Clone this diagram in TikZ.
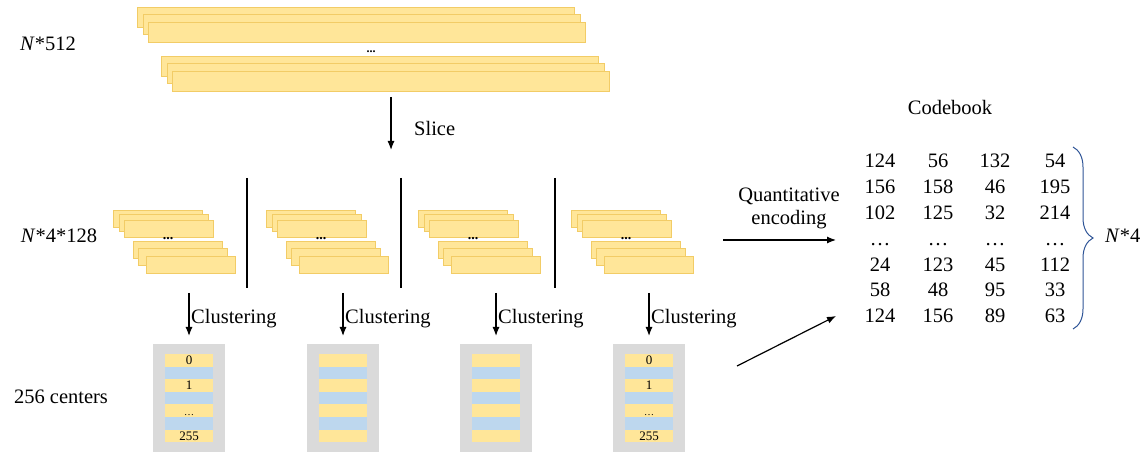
\documentclass[tikz,border=0pt]{standalone}
\usepackage{fontspec}
\setmainfont{Liberation Serif}
\usetikzlibrary{arrows.meta,decorations.pathreplacing}
\definecolor{stripY}{HTML}{FFE699}
\definecolor{stripE}{HTML}{F2CC66}
\definecolor{stripBl}{HTML}{BDD7EE}
\definecolor{boxG}{HTML}{DADADA}
\definecolor{braceB}{HTML}{2F5597}
\begin{document}
\begin{tikzpicture}[x=1pt,y=-1pt,
  bigstrip/.style={draw=stripE,fill=stripY,line width=0.8pt,inner sep=0pt,outer sep=0pt,minimum width=437pt,minimum height=20pt,anchor=north west},
  smallstrip/.style={draw=stripE,fill=stripY,line width=0.8pt,inner sep=0pt,outer sep=0pt,minimum width=89pt,minimum height=17pt,anchor=north west},
  graybox/.style={fill=boxG,inner sep=0pt,outer sep=0pt,minimum width=72pt,minimum height=108pt,anchor=north west},
  ystripe/.style={fill=stripY,inner sep=0pt,outer sep=0pt,minimum width=48pt,minimum height=12.6pt,anchor=north west},
  bstripe/.style={fill=stripBl,inner sep=0pt,outer sep=0pt,minimum width=48pt,minimum height=12.6pt,anchor=north west},
  lab/.style={font=\fontsize{20.5}{23}\selectfont,inner sep=0pt},
  small/.style={font=\fontsize{13}{15}\selectfont,inner sep=0pt,anchor=base},
  arr/.style={-{Latex[length=9pt,width=7pt]},line width=1.2pt},
  sep/.style={line width=1.6pt}]
\useasboundingbox (0,0) rectangle (1144,454);

% top strips N*512
\node[bigstrip] (t1) at (137,7) {};
\node[bigstrip] (t2) at (143,14) {};
\node[bigstrip] (t3) at (148,22) {};
\node[small,font=\fontsize{12}{14}\selectfont] (tdots) at (371,53) {\textbf{...}};
\node[bigstrip] (t4) at (161,56) {};
\node[bigstrip] (t5) at (167,63) {};
\node[bigstrip] (t6) at (172,71) {};
\node[lab] (l512) at (48,44) {\textit{N}*512};

% slice arrow
\coordinate (sA) at (391,97);
\coordinate (sB) at (391,150);
\draw[arr] (sA) -- (sB);
\node[lab,anchor=west] (slice) at (414,128) {Slice};

% separators
\foreach \x [count=\i] in {247,401,555} {
  \coordinate (sepT\i) at (\x,178);
  \coordinate (sepB\i) at (\x,288);
  \draw[sep] (sepT\i) -- (sepB\i);
}

% small groups
\foreach \g [count=\i] in {113,266,418,571} {
  \node[smallstrip] (g\i a) at (\g,210) {};
  \node[smallstrip] (g\i b) at (\g+6,214) {};
  \node[smallstrip] (g\i c) at (\g+11,220) {};
  \node[smallstrip] (g\i d) at (\g+20,241) {};
  \node[smallstrip] (g\i e) at (\g+25.5,248) {};
  \node[smallstrip] (g\i f) at (\g+33,256) {};
  \node[small,font=\fontsize{14}{15}\selectfont] (g\i dots) at (\g+55,240) {\textbf{...}};
}
\node[lab] (l128) at (59,236) {\textit{N}*4*128};

% clustering arrows and center boxes
\foreach \gx [count=\i] in {153,307,460,613} {
  \coordinate (cA\i) at (\gx+36,293);
  \coordinate (cB\i) at (\gx+36,336);
  \draw[arr] (cA\i) -- (cB\i);
  \node[lab,anchor=west] (cl\i) at (\gx+38,319) {Clustering};
  \node[graybox] (box\i) at (\gx,344) {};
  \foreach \k in {0,2,4,6} {
    \node[ystripe] (st\i-\k) at (\gx+12,354+12.6*\k) {};
  }
  \foreach \k in {1,3,5} {
    \node[bstripe] (st\i-\k) at (\gx+12,354+12.6*\k) {};
  }
}
\foreach \i in {1,4} {
  \node[small] (n0-\i) at ([yshift=-4.4pt]st\i-0.center) {0};
  \node[small] (n1-\i) at ([yshift=-4.4pt]st\i-2.center) {1};
  \node[small,font=\fontsize{10}{12}\selectfont] (n2-\i) at ([yshift=-4.4pt]st\i-4.center) {…};
  \node[small] (n3-\i) at ([yshift=-4.4pt]st\i-6.center) {255};
}
\node[lab] (l256) at (61,397) {256 centers};

% encoding arrows
\coordinate (qA) at (723,240);
\coordinate (qB) at (836,240);
\draw[arr] (qA) -- (qB);
\node[lab,align=center] (qlab) at (789,208) {Quantitative\\encoding};
\coordinate (eA) at (737,366);
\coordinate (eB) at (836,316);
\draw[arr] (eA) -- (eB);

% codebook
\node[lab] (cbt) at (950,107) {Codebook};
\foreach \r [count=\j from 0] in {{124,56,132,54},{156,158,46,195},{102,125,32,214},{…,…,…,…},{24,123,45,112},{58,48,95,33},{124,156,89,63}} {
  \foreach \v [count=\c] in \r {
    \pgfmathsetmacro{\cx}{{880,880,938,995,1055}[\c]}
    \node[lab,anchor=base] (m\j-\c) at (\cx,168+25.8*\j) {\v};
  }
}
\draw[braceB,line width=1pt,decorate,decoration={brace,amplitude=20pt}] (1073,147) -- (1073,329);
\node[lab,anchor=west] (l4) at (1105,236) {\textit{N}*4};
\end{tikzpicture}
\end{document}
